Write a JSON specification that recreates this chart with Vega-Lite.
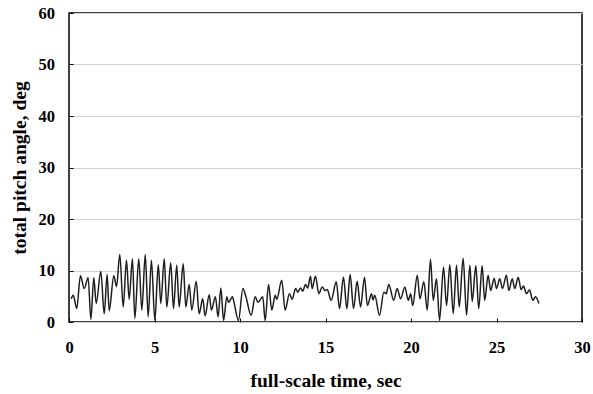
{
  "$schema": "https://vega.github.io/schema/vega-lite/v6.json",
  "width": 513,
  "height": 309,
  "autosize": "none",
  "padding": {"left": 69, "top": 13, "right": 11, "bottom": 72},
  "background": "white",
  "config": {
    "view": {"stroke": "black", "strokeWidth": 1.5},
    "font": "Liberation Serif"
  },
  "data": {
    "values": [
      {"t": 0.13, "v": 4.5}, {"t": 0.25, "v": 5.2}, {"t": 0.45, "v": 2.6}, {"t": 0.67, "v": 9.0},
      {"t": 0.89, "v": 6.5}, {"t": 1.12, "v": 8.6}, {"t": 1.28, "v": 0.5}, {"t": 1.45, "v": 8.6},
      {"t": 1.59, "v": 3.6}, {"t": 1.86, "v": 9.8}, {"t": 2.06, "v": 1.6}, {"t": 2.23, "v": 9.2},
      {"t": 2.35, "v": 2.2}, {"t": 2.62, "v": 9.0}, {"t": 2.78, "v": 6.9}, {"t": 2.97, "v": 13.1},
      {"t": 3.17, "v": 2.9}, {"t": 3.36, "v": 12.0}, {"t": 3.52, "v": 4.4}, {"t": 3.71, "v": 12.3},
      {"t": 3.85, "v": 0.7}, {"t": 4.08, "v": 12.3}, {"t": 4.26, "v": 2.3}, {"t": 4.46, "v": 13.1},
      {"t": 4.63, "v": 1.0}, {"t": 4.82, "v": 12.0}, {"t": 5.02, "v": 0.3}, {"t": 5.22, "v": 11.1},
      {"t": 5.37, "v": 3.6}, {"t": 5.57, "v": 12.3}, {"t": 5.72, "v": 2.9}, {"t": 5.95, "v": 11.5},
      {"t": 6.11, "v": 2.6}, {"t": 6.30, "v": 11.0}, {"t": 6.44, "v": 2.9}, {"t": 6.68, "v": 11.3},
      {"t": 6.83, "v": 2.9}, {"t": 7.03, "v": 7.3}, {"t": 7.18, "v": 2.3}, {"t": 7.44, "v": 7.9},
      {"t": 7.61, "v": 1.6}, {"t": 7.82, "v": 4.5}, {"t": 7.96, "v": 1.2}, {"t": 8.20, "v": 5.3},
      {"t": 8.33, "v": 2.3}, {"t": 8.56, "v": 4.9}, {"t": 8.72, "v": 1.0}, {"t": 8.88, "v": 6.6},
      {"t": 9.04, "v": 0.3}, {"t": 9.23, "v": 4.9}, {"t": 9.33, "v": 3.8}, {"t": 9.56, "v": 4.9},
      {"t": 9.65, "v": 3.8}, {"t": 9.91, "v": 0.3}, {"t": 10.17, "v": 6.5}, {"t": 10.34, "v": 5.0},
      {"t": 10.65, "v": 1.3}, {"t": 10.89, "v": 4.9}, {"t": 11.05, "v": 3.8}, {"t": 11.33, "v": 4.9},
      {"t": 11.47, "v": 0.3}, {"t": 11.67, "v": 7.3}, {"t": 11.86, "v": 2.3}, {"t": 12.06, "v": 5.2},
      {"t": 12.15, "v": 4.4}, {"t": 12.44, "v": 8.1}, {"t": 12.64, "v": 2.3}, {"t": 12.89, "v": 5.5},
      {"t": 13.05, "v": 4.4}, {"t": 13.25, "v": 6.5}, {"t": 13.38, "v": 5.8}, {"t": 13.54, "v": 6.6},
      {"t": 13.67, "v": 6.0}, {"t": 13.83, "v": 7.3}, {"t": 13.96, "v": 6.6}, {"t": 14.12, "v": 8.9},
      {"t": 14.22, "v": 6.5}, {"t": 14.41, "v": 8.9}, {"t": 14.61, "v": 5.5}, {"t": 14.81, "v": 6.8},
      {"t": 14.98, "v": 6.1}, {"t": 15.10, "v": 6.3}, {"t": 15.33, "v": 4.2}, {"t": 15.63, "v": 7.8},
      {"t": 15.82, "v": 2.6}, {"t": 16.05, "v": 8.7}, {"t": 16.25, "v": 2.6}, {"t": 16.44, "v": 9.2},
      {"t": 16.64, "v": 2.6}, {"t": 16.85, "v": 7.9}, {"t": 17.05, "v": 2.9}, {"t": 17.28, "v": 8.7},
      {"t": 17.45, "v": 3.2}, {"t": 17.69, "v": 5.5}, {"t": 17.78, "v": 4.3}, {"t": 17.88, "v": 5.2},
      {"t": 18.16, "v": 1.3}, {"t": 18.41, "v": 5.8}, {"t": 18.55, "v": 5.5}, {"t": 18.70, "v": 7.3},
      {"t": 18.99, "v": 4.2}, {"t": 19.19, "v": 6.5}, {"t": 19.39, "v": 4.5}, {"t": 19.64, "v": 6.8},
      {"t": 19.84, "v": 4.2}, {"t": 19.98, "v": 5.5}, {"t": 20.10, "v": 3.2}, {"t": 20.37, "v": 9.1},
      {"t": 20.52, "v": 4.5}, {"t": 20.75, "v": 7.8}, {"t": 20.95, "v": 2.3}, {"t": 21.14, "v": 12.2},
      {"t": 21.30, "v": 4.2}, {"t": 21.49, "v": 8.4}, {"t": 21.67, "v": 0.3}, {"t": 21.90, "v": 10.7},
      {"t": 22.08, "v": 3.2}, {"t": 22.27, "v": 11.1}, {"t": 22.47, "v": 1.6}, {"t": 22.66, "v": 11.0},
      {"t": 22.82, "v": 2.9}, {"t": 23.05, "v": 12.4}, {"t": 23.25, "v": 1.3}, {"t": 23.44, "v": 11.0},
      {"t": 23.58, "v": 4.0}, {"t": 23.79, "v": 10.9}, {"t": 23.96, "v": 2.6}, {"t": 24.16, "v": 10.9},
      {"t": 24.31, "v": 4.2}, {"t": 24.51, "v": 9.1}, {"t": 24.66, "v": 6.1}, {"t": 24.86, "v": 8.5},
      {"t": 25.00, "v": 6.5}, {"t": 25.19, "v": 8.4}, {"t": 25.35, "v": 6.5}, {"t": 25.58, "v": 9.1},
      {"t": 25.72, "v": 6.1}, {"t": 25.92, "v": 8.4}, {"t": 26.07, "v": 6.5}, {"t": 26.27, "v": 8.7},
      {"t": 26.44, "v": 6.3}, {"t": 26.58, "v": 7.0}, {"t": 26.75, "v": 5.5}, {"t": 26.93, "v": 6.2},
      {"t": 27.12, "v": 4.2}, {"t": 27.28, "v": 4.9}, {"t": 27.48, "v": 3.6}
    ]
  },
  "mark": {"type": "line", "interpolate": "monotone", "color": "#1e1e1e", "strokeWidth": 1.5},
  "encoding": {
    "x": {
      "field": "t",
      "type": "quantitative",
      "scale": {"domain": [0, 30], "nice": false, "zero": true},
      "axis": {
        "title": "full-scale time, sec",
        "values": [0, 5, 10, 15, 20, 25, 30],
        "grid": false,
        "domain": false,
        "tickSize": -4,
        "tickColor": "black",
        "tickWidth": 1,
        "labelFont": "Liberation Serif",
        "labelFontWeight": "bold",
        "labelFontSize": 16.5,
        "labelColor": "black",
        "labelPadding": 21,
        "labelFlush": false,
        "titleFont": "Liberation Serif",
        "titleFontWeight": "bold",
        "titleFontSize": 19.5,
        "titleColor": "black",
        "titlePadding": 16
      }
    },
    "y": {
      "field": "v",
      "type": "quantitative",
      "scale": {"domain": [0, 60], "nice": false},
      "axis": {
        "title": "total pitch angle, deg",
        "values": [0, 10, 20, 30, 40, 50, 60],
        "grid": true,
        "gridColor": "#d2d2d2",
        "gridWidth": 1,
        "domain": false,
        "tickSize": -4,
        "tickColor": "black",
        "labelFont": "Liberation Serif",
        "labelFontWeight": "bold",
        "labelFontSize": 16.5,
        "labelColor": "black",
        "labelPadding": 18.5,
        "labelFlush": false,
        "titleFont": "Liberation Serif",
        "titleFontWeight": "bold",
        "titleFontSize": 19.5,
        "titleColor": "black",
        "titlePadding": 9
      }
    }
  }
}
